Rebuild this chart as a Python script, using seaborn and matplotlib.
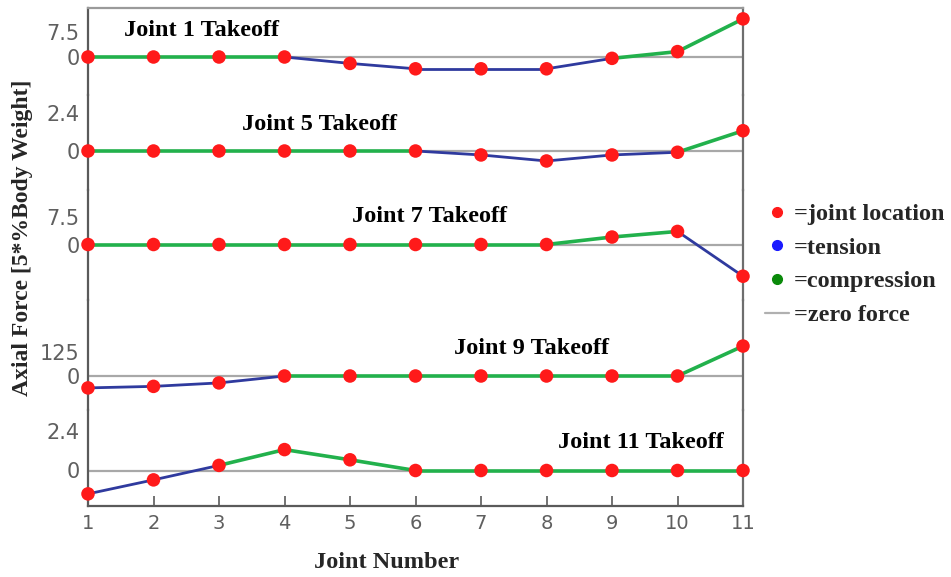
import numpy as np
import pandas as pd
import matplotlib
matplotlib.use("Agg")
import matplotlib.pyplot as plt
import seaborn as sns
from matplotlib.lines import Line2D

sns.set_style("white")

joints = list(range(1, 12))
titles = ["Joint 1 Takeoff", "Joint 5 Takeoff", "Joint 7 Takeoff",
          "Joint 9 Takeoff", "Joint 11 Takeoff"]
joint1 = [0, 0, 0, 0, -1.9, -3.5, -3.5, -3.5, -0.4, 1.6, 11.3]
joint5 = [0, 0, 0, 0, 0, 0, -0.25, -0.63, -0.25, -0.08, 1.28]
joint7 = [0, 0, 0, 0, 0, 0, 0, 0, 2.0, 3.5, -8.5]
joint9 = [-62, -54, -36, 0, 0, 0, 0, 0, 0, 0, 156]
joint11 = [-1.42, -0.57, 0.31, 1.27, 0.65, 0, 0, 0, 0, 0, 0]
series = [joint1, joint5, joint7, joint9, joint11]
tick_values = [7.5, 2.4, 7.5, 125, 2.4]
tick_labels = ["7.5", "2.4", "7.5", "125", "2.4"]

# layout (pixels): panel top, bottom, zero line, pixels per tick_value
W, H = 951, 577
panels_px = [(8, 95, 57, 25.3), (95, 190, 151, 38), (190, 300, 244.5, 28),
             (300, 410, 376, 24), (410, 506, 470.5, 39.5)]
left_px, right_px = 88, 743

GREEN = "#22b14c"
BLUE = "#2f3a9e"
RED = "#ff1a1a"
GRAY = "#a8a8a8"
SPINE = "#5a5a5a"
TICKC = "#5f5f5f"

fig = plt.figure(figsize=(W / 100, H / 100), dpi=100)
serif_bold = dict(family="Liberation Serif", weight="bold")

axes = []
for k, (vals, (T, B, Z, ppt)) in enumerate(zip(series, panels_px)):
    ax = fig.add_axes([left_px / W, 1 - B / H, (right_px - left_px) / W, (B - T) / H])
    axes.append(ax)
    s = tick_values[k] / ppt
    ax.set_ylim(-(B - Z) * s, (Z - T) * s)
    ax.set_xlim(1, 11)
    ax.axhline(0, color=GRAY, lw=1.6, zorder=1)

    rows = []
    for i in range(len(joints) - 1):
        kind = "tension" if (vals[i] + vals[i + 1]) / 2 < 0 else "compression"
        rows.append(dict(seg=i, x=joints[i], y=vals[i], kind=kind))
        rows.append(dict(seg=i, x=joints[i + 1], y=vals[i + 1], kind=kind))
    df = pd.DataFrame(rows)
    for kind, col, lw in [("compression", GREEN, 2.6), ("tension", BLUE, 2.0)]:
        sub = df[df.kind == kind]
        if len(sub):
            sns.lineplot(data=sub, x="x", y="y", units="seg", estimator=None,
                         sort=False, color=col, lw=lw, ax=ax, legend=False,
                         zorder=2)
    pts = pd.DataFrame(dict(x=joints, y=vals))
    sns.scatterplot(data=pts, x="x", y="y", color=RED, s=95, edgecolor="none",
                    ax=ax, zorder=3, clip_on=False, legend=False)

    ax.set_yticks([0, tick_values[k]])
    ax.set_yticklabels(["0", tick_labels[k]])
    ax.tick_params(axis="y", direction="inout", length=6, width=1.2,
                   color=SPINE, labelsize=15, labelcolor=TICKC, pad=3)
    ax.set_xlabel("")
    ax.set_ylabel("")
    for sp in ["left", "right", "top", "bottom"]:
        ax.spines[sp].set_visible(False)
    ax.spines["left"].set_visible(True)
    ax.spines["left"].set_color(SPINE)
    ax.spines["left"].set_linewidth(1.6)
    ax.spines["right"].set_visible(True)
    ax.spines["right"].set_color("#6e6e6e")
    ax.spines["right"].set_linewidth(1.6)
    if k == 0:
        ax.spines["top"].set_visible(True)
        ax.spines["top"].set_color("#9a9a9a")
        ax.spines["top"].set_linewidth(1.6)
    if k == len(series) - 1:
        ax.spines["bottom"].set_visible(True)
        ax.spines["bottom"].set_color(SPINE)
        ax.spines["bottom"].set_linewidth(1.6)
        ax.set_xticks(joints)
        ax.set_xticklabels([str(j) for j in joints])
        ax.tick_params(axis="x", direction="in", length=7, width=1.2,
                       color=SPINE, labelsize=14, labelcolor=TICKC, pad=6,
                       bottom=True)
    else:
        ax.set_xticks([])
    ax.patch.set_alpha(0)

# panel titles (pixel positions of text centres)
title_pos = [(201, 31), (319, 124), (430, 217), (531, 348), (641, 443)]
for (tx, ty), t in zip(title_pos, titles):
    fig.text(tx / W, 1 - ty / H, t, ha="center", va="center", fontsize=17.5,
             color="black", **serif_bold)

fig.text(387 / W, 1 - 562 / H, "Joint Number", ha="center", va="center",
         fontsize=17.5, **serif_bold)
fig.text(23 / W, 1 - 238 / H, "Axial Force [5*%Body Weight]", ha="center",
         va="center", rotation=90, fontsize=17, **serif_bold)

# legend
handles = [
    Line2D([], [], ls="none", marker="o", color=RED, markersize=7),
    Line2D([], [], ls="none", marker="o", color="#1a1aff", markersize=7),
    Line2D([], [], ls="none", marker="o", color="#0a8a0a", markersize=7),
    Line2D([], [], color="#b0b0b0", lw=1.6),
]
labels = ["=joint location", "=tension", "=compression", "=zero force"]
fig.legend(handles, labels, loc="upper left",
           bbox_to_anchor=(765 / W, 1 - 203 / H), frameon=False,
           prop=dict(family="Liberation Serif", weight="bold", size=17.5),
           handlelength=1.0, handletextpad=0.2, labelspacing=0.48,
           borderaxespad=0, borderpad=0)

fig.savefig("out.png", dpi=100)
